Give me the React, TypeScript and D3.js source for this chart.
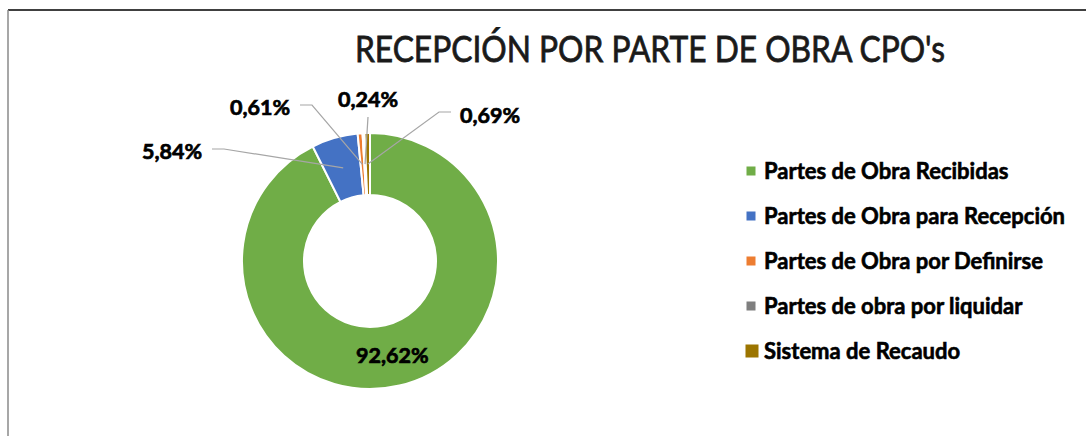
import React, { useEffect, useRef } from 'react';
import * as d3 from 'd3';

// data
const categories = [
  'Partes de Obra Recibidas',
  'Partes de Obra para Recepción',
  'Partes de Obra por Definirse',
  'Partes de obra por liquidar',
  'Sistema de Recaudo',
];
const values = [92.62, 5.84, 0.61, 0.24, 0.69];
const colors = ['#70AD47', '#4472C4', '#ED7D31', '#7F7F7F', '#9C7500'];
const title = "RECEPCIÓN POR PARTE DE OBRA CPO's";

// label placement for the small slices (callouts), null = label inside slice
const calloutPos: ([number, number] | null)[] = [null, [172, 151], [260, 107], [368, 99], [490, 115]];

const W = 1086, H = 436;

const App = () => {
  const ref = useRef<SVGSVGElement>(null);

  useEffect(() => {
    const svg = d3.select(ref.current);
    svg.selectAll('*').remove();

    // frame
    svg.append('line').attr('x1', 8).attr('y1', 10).attr('x2', W).attr('y2', 10)
      .attr('stroke', '#000').attr('stroke-width', 1.5);
    svg.append('line').attr('x1', 8).attr('y1', 10).attr('x2', 8).attr('y2', H)
      .attr('stroke', '#8a8a8a').attr('stroke-width', 1.5);

    // title
    svg.append('text')
      .attr('x', 650).attr('y', 62)
      .attr('text-anchor', 'middle')
      .attr('font-family', 'Lato, sans-serif')
      .attr('font-size', 37)
      .attr('fill', '#1a1a1a')
      .attr('stroke', '#1a1a1a').attr('stroke-width', 0.8)
      .attr('textLength', 590).attr('lengthAdjust', 'spacingAndGlyphs')
      .text(title);

    const cx = 370, cy = 261;
    const g = svg.append('g').attr('transform', `translate(${cx},${cy})`);

    const pie = d3.pie<number>().sort(null).value(d => d);
    const arcs = pie(values);
    const arc = d3.arc<d3.PieArcDatum<number>>().innerRadius(66).outerRadius(128);

    g.selectAll('path.slice')
      .data(arcs)
      .enter().append('path')
      .attr('class', 'slice')
      .attr('d', arc)
      .attr('fill', (d, i) => colors[i])
      .attr('stroke', '#fff')
      .attr('stroke-width', 2);

    const fmt = (v: number) => v.toFixed(2).replace('.', ',') + '%';
    const labelFont = 'Lato, sans-serif';

    const addLabel = (x: number, y: number, txt: string) =>
      g.append('text')
        .attr('x', x).attr('y', y)
        .attr('dy', '0.35em')
        .attr('text-anchor', 'middle')
        .attr('font-family', labelFont)
        .attr('font-weight', 'bold')
        .attr('font-size', 21.5)
        .attr('fill', '#000')
        .attr('stroke', '#000').attr('stroke-width', 0.7)
        .text(txt);

    arcs.forEach((d, i) => {
      const [ax, ay] = arc.centroid(d);
      const pos = calloutPos[i];
      if (!pos) {
        addLabel(ax, ay, fmt(values[i]));
        return;
      }
      const lx = pos[0] - cx, ly = pos[1] - cy;
      const tw = 58;
      let pts: [number, number][];
      if (Math.abs(lx - ax) < 10) {
        pts = [[ax, ay], [lx, ly + 18]];
      } else if (lx < ax) {
        const ex = lx + tw / 2 + 11;
        pts = [[ax, ay], [ex + 12, ly - 2], [ex, ly - 2]];
      } else {
        const ex = lx - tw / 2 - 10;
        pts = [[ax, ay], [ex - 12, ly - 3], [ex, ly - 3]];
      }
      g.append('path')
        .attr('d', d3.line()(pts))
        .attr('fill', 'none')
        .attr('stroke', '#a6a6a6')
        .attr('stroke-width', 1.2);
      addLabel(lx, ly, fmt(values[i]));
    });

    // legend
    const legY = d3.scalePoint<string>().domain(categories).range([171, 351]);
    const leg = svg.append('g');
    categories.forEach((c, i) => {
      const y = legY(c)!;
      const s = i === categories.length - 1 ? 13 : 9;
      leg.append('rect')
        .attr('x', 751 - s / 2 + (i === categories.length - 1 ? 1 : 0)).attr('y', y - s / 2)
        .attr('width', s).attr('height', s)
        .attr('fill', colors[i]);
      leg.append('text')
        .attr('x', 764).attr('y', y)
        .attr('dy', '0.35em')
        .attr('font-family', labelFont)
        .attr('font-weight', 'bold')
        .attr('font-size', 22)
        .attr('fill', '#000')
        .attr('stroke', '#000').attr('stroke-width', 0.6)
        .text(c);
    });
  }, []);

  return (
    <svg ref={ref} width={W} height={H}
      style={{ position: 'absolute', left: 0, top: 0, background: '#fff' }} />
  );
};

export default App;
